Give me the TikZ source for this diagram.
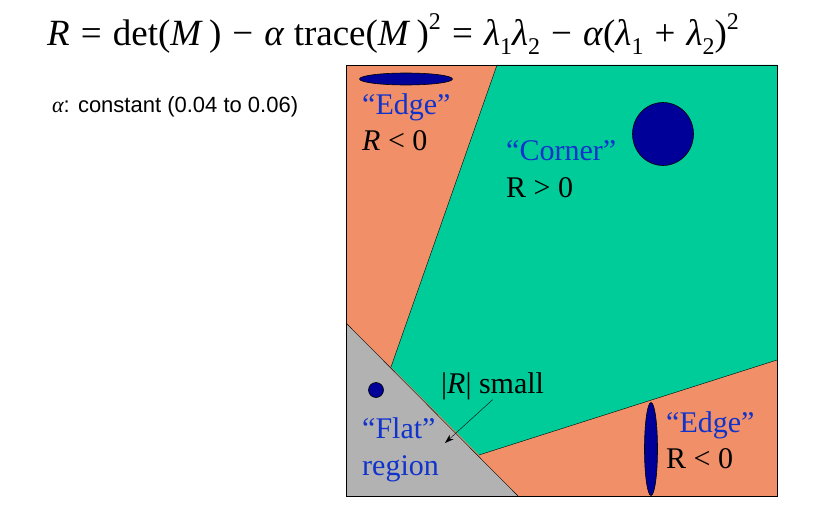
\documentclass[tikz,border=0pt]{standalone}
\usepackage{fontspec}
\setmainfont{Liberation Serif}
\newfontfamily\arialfont{Liberation Sans}
\usepackage{tikz}
\usetikzlibrary{arrows.meta}

\definecolor{edgeorange}{RGB}{241,144,104}
\definecolor{cornergreen}{RGB}{0,204,153}
\definecolor{flatgray}{RGB}{178,178,178}
\definecolor{blobblue}{RGB}{0,0,153}
\definecolor{labelblue}{RGB}{17,51,204}

\newcommand{\fop}[1]{\hspace{0.3em}#1\hspace{0.3em}}
\newcommand{\lsup}{\raisebox{0.45em}{\fontsize{24}{24}\selectfont 2}}
\newcommand{\lsub}[1]{\raisebox{-0.22em}{\fontsize{24}{24}\selectfont #1}}

\tikzset{
	lbl/.style={anchor=base west, inner sep=0pt, font=\fontsize{30}{32}\selectfont},
	qlbl/.style={lbl, text=labelblue},
	blob/.style={fill=blobblue, draw=black, line width=0.6pt}
}

\begin{document}
\begin{tikzpicture}[x=1pt, y=-1pt]
	
	\useasboundingbox (0,0) rectangle (817,511);
	
	% formula and constant
	\node[anchor=base west, inner sep=0pt, font=\fontsize{37}{38}\selectfont] (formula) at (47,46)
	{\textit{R}\fop{=}det(\textit{M}\,)\fop{−}\textit{α} trace(\textit{M}\,)\lsup\fop{=}\textit{λ}\lsub{1}\textit{λ}\lsub{2}\fop{−}\textit{α}(\textit{λ}\lsub{1}\fop{+}\textit{λ}\lsub{2})\lsup};
	\node[anchor=base west, inner sep=0pt, font=\arialfont\fontsize{22}{24}\selectfont] (alpha) at (52,113)
	{{\rmfamily\itshape α}: constant (0.04 to 0.06)};
	
	% regions
	\filldraw[fill=edgeorange, draw=black] (346,65) rectangle (777,496);
	\fill[cornergreen] (497,65) -- (777,65) -- (777,360) -- (479,455) -- (391,367) -- cycle;
	\fill[flatgray] (346,323) -- (518,496) -- (346,496) -- cycle;
	\draw (497,65) -- (391,367);
	\draw (346,323) -- (518,496);
	\draw (479,455) -- (777,360);
	\draw (346,65) rectangle (777,496);
	
	% blobs
	\filldraw[blob] (406,79) ellipse (46.5pt and 6pt);
	\filldraw[blob] (663,134) ellipse (30.5pt and 31.5pt);
	\filldraw[blob] (376,390) circle (7.5pt);
	\filldraw[blob] (651,449) ellipse (6.5pt and 46.5pt);
	
	% labels
	\node[qlbl] (edgetop) at (362,114) {“Edge”};
	\node[lbl] (edgetopR) at (362,150) {\textit{R} < 0};
	\node[qlbl] (corner) at (506,160) {“Corner”};
	\node[lbl] (cornerR) at (506,197) {R > 0};
	\node[lbl] (small) at (441,393) {|\textit{R}| small};
	\node[qlbl] (flat) at (362,438) {“Flat”};
	\node[qlbl] (flatreg) at (362,475) {region};
	\node[qlbl] (edgebot) at (666,432) {“Edge”};
	\node[lbl] (edgebotR) at (666,468) {R < 0};
	
	\coordinate (flatpt) at (445,443);
	\draw[-{Stealth[length=9pt, width=6pt]}] (small.south) -- (flatpt);

\end{tikzpicture}
\end{document}
